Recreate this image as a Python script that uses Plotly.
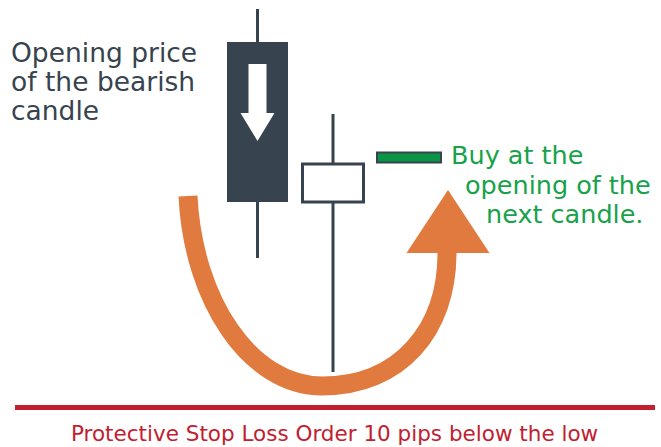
import plotly.graph_objects as go

W, H = 661, 447

# ---- data (x in canvas units, y in price units) ----
candle_x = [257.5, 333.0]
candle_open = [405, 245]
candle_high = [438, 333]
candle_low = [189, 75]
candle_close = [245, 283]
candle_half_width = 30.5

buy_level = 289.5
buy_x = [377, 441]

stop_level = 39.5
stop_x = [15, 655]

# orange U-arrow: start, control1, control2, bottom, control3, control4, end
curve_pts = [(188, 251), (193, 147), (250, 61), (322, 61), (400, 61), (447, 117), (447, 194)]
head_base_y = 194
head_tip_y = 257
head_half = 41.5

left_lines = ["Opening price", "of the bearish", "candle"]
left_x = [9, 9, 9]
left_y = [395, 366, 337]

green_lines = ["Buy at the", "opening of the", "next candle."]
green_x = [449, 463, 484]
green_y = [292, 262, 233]

bottom_text = "Protective Stop Loss Order 10 pips below the low"
bottom_pos = (334, 14)

DARK = "#37434F"
ORANGE = "#E07A3F"
GREEN_T = "#17A24B"
GREEN_F = "#0A9446"
RED = "#C2202F"
FONT = "DejaVu Sans"

shapes = []

# wicks (split so they never cross bodies)
for cx, o, h, l, c in zip(candle_x, candle_open, candle_high, candle_low, candle_close):
    top, bot = max(o, c), min(o, c)
    shapes.append(dict(type="line", xref="x", yref="y", x0=cx, x1=cx, y0=top, y1=h,
                       line=dict(color=DARK, width=3)))
    shapes.append(dict(type="line", xref="x", yref="y", x0=cx, x1=cx, y0=l, y1=bot,
                       line=dict(color=DARK, width=3)))

# orange curve
p = curve_pts
path = (f"M {p[0][0]},{p[0][1]} C {p[1][0]},{p[1][1]} {p[2][0]},{p[2][1]} {p[3][0]},{p[3][1]} "
        f"C {p[4][0]},{p[4][1]} {p[5][0]},{p[5][1]} {p[6][0]},{p[6][1]}")
shapes.append(dict(type="path", xref="x", yref="y", path=path,
                   line=dict(color=ORANGE, width=19)))
ex = p[6][0] + 1
shapes.append(dict(type="path", xref="x", yref="y",
                   path=f"M {ex-head_half},{head_base_y} L {ex+head_half},{head_base_y} L {ex},{head_tip_y} Z",
                   fillcolor=ORANGE, line=dict(width=0)))

# bodies
for cx, o, h, l, c in zip(candle_x, candle_open, candle_high, candle_low, candle_close):
    bearish = c < o
    shapes.append(dict(type="rect", xref="x", yref="y",
                       x0=cx - candle_half_width, x1=cx + candle_half_width, y0=o, y1=c,
                       fillcolor=DARK if bearish else "white",
                       line=dict(color=DARK, width=0 if bearish else 3)))
    if bearish:
        # white down arrow glyph inside bearish body
        top = o - 22
        shaft_end = o - 71
        tip = o - 99
        sw, hw = 9, 17
        shapes.append(dict(type="path", xref="x", yref="y",
                           path=(f"M {cx-sw},{top} L {cx+sw},{top} L {cx+sw},{shaft_end} "
                                 f"L {cx+hw},{shaft_end} L {cx},{tip} L {cx-hw},{shaft_end} "
                                 f"L {cx-sw},{shaft_end} Z"),
                           fillcolor="white", line=dict(width=0)))

# buy marker
shapes.append(dict(type="rect", xref="x", yref="y", x0=buy_x[0], x1=buy_x[1],
                   y0=buy_level - 5, y1=buy_level + 5, fillcolor=GREEN_F,
                   line=dict(color=DARK, width=2)))

# stop loss line
shapes.append(dict(type="line", xref="x", yref="y", x0=stop_x[0], x1=stop_x[1],
                   y0=stop_level, y1=stop_level, line=dict(color=RED, width=5)))

annotations = []
for t, x, y in zip(left_lines, left_x, left_y):
    annotations.append(dict(text=t, x=x, y=y, xref="x", yref="y", xanchor="left",
                            yanchor="middle", showarrow=False,
                            font=dict(family=FONT, size=26.5, color=DARK)))
for t, x, y in zip(green_lines, green_x, green_y):
    annotations.append(dict(text=t, x=x, y=y, xref="x", yref="y", xanchor="left",
                            yanchor="middle", showarrow=False,
                            font=dict(family=FONT, size=25.5, color=GREEN_T)))
annotations.append(dict(text=bottom_text, x=bottom_pos[0], y=bottom_pos[1], xref="x", yref="y",
                        xanchor="center", yanchor="middle", showarrow=False,
                        font=dict(family=FONT, size=21.5, color=RED)))

fig = go.Figure()
fig.add_trace(go.Scatter(x=[0, W], y=[0, H], mode="markers", marker=dict(opacity=0),
                         hoverinfo="skip", showlegend=False))
fig.update_layout(
    width=W, height=H, margin=dict(l=0, r=0, t=0, b=0),
    paper_bgcolor="white", plot_bgcolor="white",
    xaxis=dict(range=[0, W], visible=False, fixedrange=True),
    yaxis=dict(range=[0, H], visible=False, fixedrange=True),
    shapes=shapes, annotations=annotations, showlegend=False,
)
fig.write_html("out.html", config={"displayModeBar": False, "staticPlot": True},
               post_script="document.body.style.margin='0';document.body.style.overflow='hidden';")
